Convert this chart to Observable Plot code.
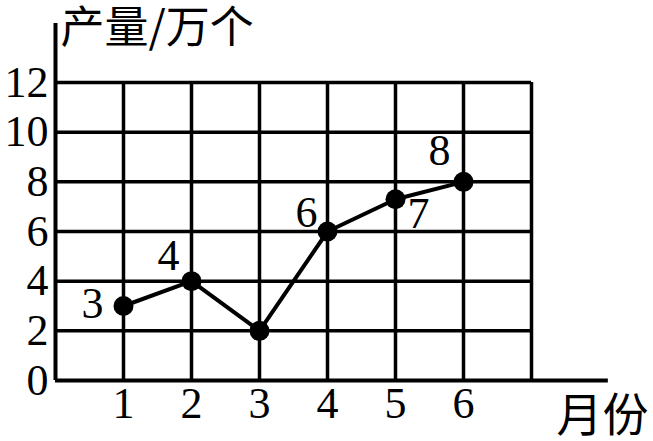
<!DOCTYPE html>
<html>
<head>
<meta charset="utf-8">
<script src="https://cdn.jsdelivr.net/npm/d3@7"></script>
<script src="https://cdn.jsdelivr.net/npm/@observablehq/plot@0.6"></script>
<style>
  html, body { margin: 0; padding: 0; background: #fff; }
</style>
</head>
<body>
<div id="chart"></div>
<script>
// ---- data ----
const months = [1, 2, 3, 4, 5, 6];
const output = [3, 4, 2, 6, 7.3, 8];          // plotted values (万个)
const valueLabels = ["3", "4", "2", "6", "7", "8"];
const yTicks = [0, 2, 4, 6, 8, 10, 12];
const xTicks = [1, 2, 3, 4, 5, 6];
const gridX = [1, 2, 3, 4, 5, 6, 7];
const yTitle = "产量/万个";
const xTitle = "月份";

// ---- label placement (style) ----
const labelDx = [-31, -23, 0, -21, 23, -24];
const labelDy = [-2, -25, 0, -19, 15, -31];
const showLabel = [true, true, false, true, true, true];

const data = months.map((m, i) => ({
  month: m, value: output[i], label: valueLabels[i],
  dx: labelDx[i], dy: labelDy[i], show: showLabel[i]
}));

const serif = "'Liberation Serif', 'Times New Roman', serif";
const cjk = "'Noto Sans CJK SC', sans-serif";
const xMax = 7, yMax = 12;
const xAxisEnd = 8.13, yAxisTop = 14.38;

const labelMarks = data.filter(d => d.show).map(d =>
  Plot.text([d], {x: "month", y: "value", text: "label", dx: d.dx, dy: d.dy,
    fontSize: 44, fontFamily: serif, fill: "#000"})
);

const chart = Plot.plot({
  width: 653,
  height: 441,
  margin: 0,
  x: {type: "linear", domain: [0, xMax], range: [55, 531], axis: null},
  y: {type: "linear", domain: [0, yMax], range: [380, 82], axis: null},
  style: {background: "#fff"},
  marks: [
    // horizontal grid
    Plot.ruleY(yTicks.filter(v => v > 0), {x1: 0, x2: xMax, stroke: "#000", strokeWidth: 3.5}),
    // vertical grid
    Plot.ruleX(gridX, {y1: 0, y2: yMax, stroke: "#000", strokeWidth: 3.5}),
    // axes
    Plot.ruleY([0], {x1: 0, x2: xAxisEnd, stroke: "#000", strokeWidth: 4}),
    Plot.ruleX([0], {y1: 0, y2: yAxisTop, stroke: "#000", strokeWidth: 4}),
    // y tick labels
    Plot.text(yTicks, {x: 0, y: d => d, text: d => String(d), dx: -7, textAnchor: "end",
      fontSize: 44, fontFamily: serif, fill: "#000"}),
    // x tick labels
    Plot.text(xTicks, {x: d => d, y: 0, text: d => String(d), dy: 23,
      fontSize: 44, fontFamily: serif, fill: "#000"}),
    // line + dots
    Plot.line(data, {x: "month", y: "value", stroke: "#000", strokeWidth: 4}),
    Plot.dot(data, {x: "month", y: "value", r: 10, fill: "#000", stroke: "none"}),
    ...labelMarks,
    // axis titles
    Plot.text([yTitle], {frameAnchor: "top-left", dx: 60, dy: 11, textAnchor: "start",
      fontSize: 44, fontFamily: cjk, fill: "#000"}),
    Plot.text([xTitle], {frameAnchor: "top-left", dx: 556, dy: 398, textAnchor: "start",
      fontSize: 46, fontFamily: cjk, fill: "#000"})
  ]
});
document.getElementById("chart").appendChild(chart);
</script>
</body>
</html>
